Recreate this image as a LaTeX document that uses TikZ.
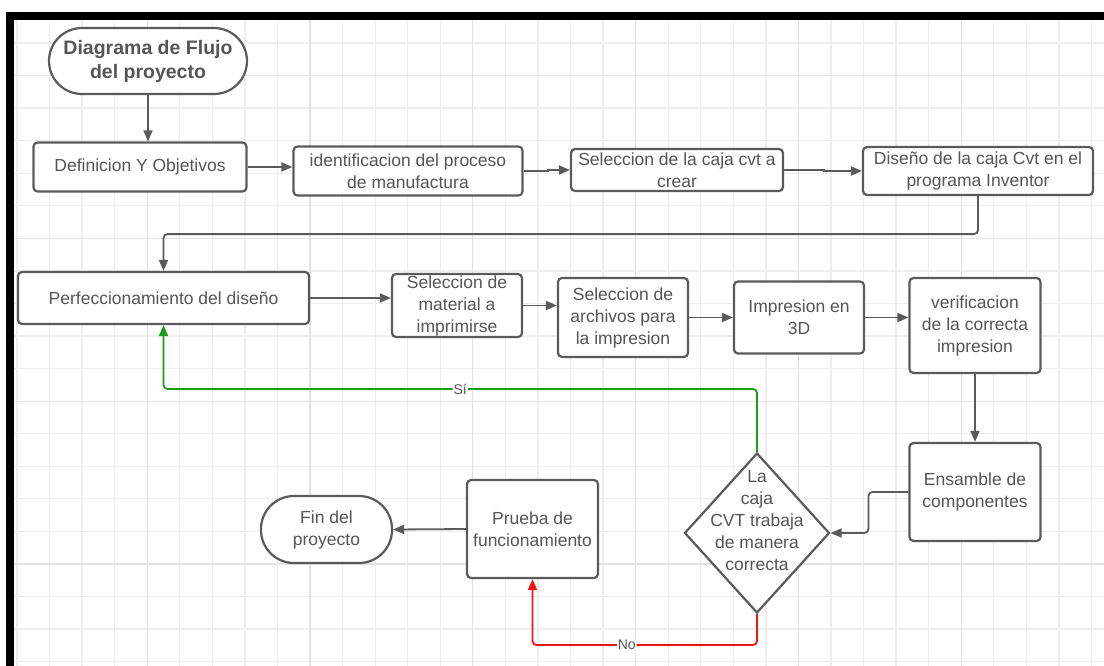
\documentclass[tikz,border=0pt]{standalone}
\usepackage{fontspec}
\setmainfont{Liberation Sans}
\usetikzlibrary{arrows.meta,shapes.geometric,calc}
\definecolor{ink}{HTML}{5A5A5A}
\definecolor{txt}{HTML}{555555}
\definecolor{gridc}{HTML}{EEEEEE}
\definecolor{gridm}{HTML}{E2E2E2}
\definecolor{yesc}{HTML}{1E9A1E}
\definecolor{noc}{HTML}{F01414}
\begin{document}
\begin{tikzpicture}[x=1pt,y=-1pt,
  box/.style={draw=ink, line width=2.2pt, rounded corners=4pt, fill=white, align=center, inner sep=0pt, text=txt, font=\fontsize{17.5}{22}\selectfont},
  term/.style={box, rounded corners=33pt},
  conn/.style={draw=ink, line width=1.8pt, -{Triangle[length=11pt,width=9pt]}, rounded corners=4pt},
  lbl/.style={fill=white, inner sep=1pt, text=txt, font=\fontsize{14}{16}\selectfont},
]
\useasboundingbox (0,0) rectangle (1104,666);
% grid
\begin{scope}
\clip (14,20) rectangle (1104,666);
\foreach \i in {0,...,33} {\pgfmathsetmacro\xx{17+32.56*\i}
  \draw[gridc, line width=1.3pt] (\xx,20) -- (\xx,666);}
\foreach \i in {0,...,19} {\pgfmathsetmacro\yy{43+32.56*\i}
  \draw[gridc, line width=1.3pt] (14,\yy) -- (1104,\yy);}
\foreach \i in {4,9,...,29} {\pgfmathsetmacro\xx{17+32.56*\i}
  \draw[gridm, line width=1.3pt] (\xx,20) -- (\xx,666);}
\foreach \i in {1,6,11,16} {\pgfmathsetmacro\yy{43+32.56*\i}
  \draw[gridm, line width=1.3pt] (14,\yy) -- (1104,\yy);}
\end{scope}
% frame
\fill[black] (6,12) rectangle (1104,20);
\fill[black] (6,12) rectangle (14,666);

% nodes
\node[term, minimum width=198pt, minimum height=66pt, font=\bfseries\fontsize{19.5}{24}\selectfont] (start) at (148,61) {Diagrama de Flujo\\del proyecto};
\node[box, minimum width=213pt, minimum height=49pt] (def) at (140,167) {Definicion Y Objetivos};
\node[box, minimum width=229pt, minimum height=49pt] (ident) at (408,171) {identificacion del proceso\\de manufactura};
\node[box, minimum width=212pt, minimum height=42pt] (sel) at (677,170) {Seleccion de la caja cvt a\\crear};
\node[box, minimum width=230pt, minimum height=48pt] (dis) at (978,171) {Diseño de la caja Cvt en el\\programa Inventor};
\node[box, minimum width=291pt, minimum height=52pt] (perf) at (163.5,298) {Perfeccionamiento del diseño};
\node[box, minimum width=130pt, minimum height=63pt] (mat) at (457,305.5) {Seleccion de\\material a\\imprimirse};
\node[box, minimum width=130pt, minimum height=79pt] (arch) at (623,317.5) {Seleccion de\\archivos para\\la impresion};
\node[box, minimum width=130pt, minimum height=72pt] (imp) at (799,317.5) {Impresion en\\3D};
\node[box, minimum width=131pt, minimum height=95pt] (ver) at (975,325.5) {verificacion\\de la correcta\\impresion};
\node[box, minimum width=131pt, minimum height=98pt] (ens) at (975,492) {Ensamble de\\componentes};
\node[box, shape=diamond, sharp corners, minimum width=145pt, minimum height=160pt] (dec) at (757,533) {\raisebox{14pt}{\smash{\begin{tabular}{@{}c@{}}La\\caja\\CVT trabaja\\de manera\\correcta\end{tabular}}}};
\node[box, minimum width=131pt, minimum height=98pt] (prue) at (532.5,529) {Prueba de\\funcionamiento};
\node[term, minimum width=131pt, minimum height=67pt] (fin) at (326.5,529.5) {Fin del\\proyecto};

% connectors
\draw[conn] (start.south) -- (start.south |- def.north);
\draw[conn] (def) -- (ident.west |- def.east);
\draw[conn, sharp corners] (ident.east) -- ++(24,0) |- (sel.west);
\draw[conn, sharp corners] (sel.east) -- ++(40,0) |- (dis.west);
\draw[conn] (dis.south) -- ++(0,38) -| (perf.north);
\draw[conn] (perf.east) -- (mat.west |- perf.east);
\draw[conn] (mat.east) -- (arch.west |- mat.east);
\draw[conn] (arch.east) -- (imp.west);
\draw[conn] (imp.east) -- (ver.west |- imp.east);
\draw[conn] (ver.south) -- (ens.north);
\draw[conn] (ens.west) -- ++(-40,0) |- (dec.east);
\coordinate (gy) at (757,389);
\coordinate (ry) at (757,645);
\draw[conn, draw=yesc] (dec.north) -- (dec.north |- gy) -| (perf.south) node[lbl, pos=0.25] {Sí};
\draw[conn, draw=noc] (dec.south) -- (dec.south |- ry) -| (prue.south) node[lbl, pos=0.29] {No};
\draw[conn] (prue.west) -- (fin.east);
\end{tikzpicture}
\end{document}
